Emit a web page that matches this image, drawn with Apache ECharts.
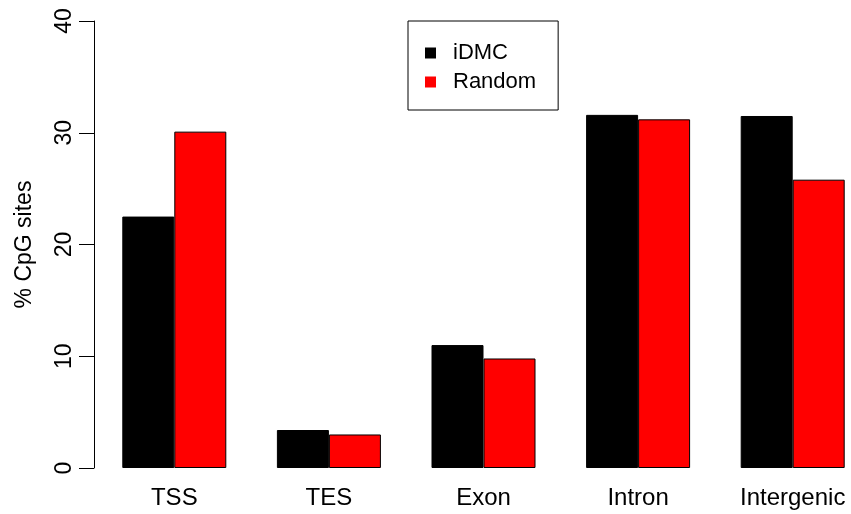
<!DOCTYPE html>
<html>
<head>
<meta charset="utf-8">
<script src="https://cdn.jsdelivr.net/npm/echarts@6/dist/echarts.min.js"></script>
<style>
  html, body { margin: 0; padding: 0; background: #fff; }
  #chart { width: 851px; height: 514px; }
</style>
</head>
<body>
<div id="chart"></div>
<script>
// Genomic feature categories
const categories = ['TSS', 'TES', 'Exon', 'Intron', 'Intergenic'];
// Percentage of CpG sites per feature
const idmcValues = [22.5, 3.4, 11.0, 31.6, 31.5];
const randomValues = [30.1, 3.0, 9.8, 31.2, 25.8];
const yTicks = [0, 10, 20, 30, 40];

const FONT = '"Liberation Sans", Arial, Helvetica, sans-serif';

const chart = echarts.init(document.getElementById('chart'), null, { renderer: 'canvas' });

chart.setOption({
  animation: false,
  backgroundColor: '#ffffff',
  textStyle: { fontFamily: FONT, color: '#000' },
  grid: { left: 97, right: -19, top: 21, bottom: 46, containLabel: false, outerBoundsMode: 'none' },
  legend: {
    orient: 'vertical',
    left: 408,
    top: 21,
    padding: [21, 22, 17, 17],
    itemWidth: 11,
    itemHeight: 11,
    itemGap: 7,
    icon: 'rect',
    borderColor: '#000',
    borderWidth: 1,
    itemStyle: { borderWidth: 0 },
    textStyle: { fontFamily: FONT, fontSize: 22, color: '#000', lineHeight: 22, padding: [0, 0, 0, 12] },
    data: ['iDMC', 'Random']
  },
  xAxis: {
    type: 'category',
    data: categories,
    axisLine: { show: false },
    axisTick: { show: false },
    axisLabel: { fontFamily: FONT, fontSize: 24, color: '#000', margin: 18 }
  },
  yAxis: {
    type: 'value',
    min: yTicks[0],
    max: yTicks[yTicks.length - 1],
    interval: 10,
    offset: 3,
    name: '% CpG sites',
    nameLocation: 'middle',
    nameRotate: 90,
    nameGap: 58,
    nameTextStyle: { fontFamily: FONT, fontSize: 23, color: '#000' },
    axisLine: { show: true, lineStyle: { color: '#000', width: 1 } },
    axisTick: { show: true, length: 15, lineStyle: { color: '#000', width: 1 } },
    axisLabel: { rotate: 90, fontFamily: FONT, fontSize: 23, color: '#000', margin: 18 },
    splitLine: { show: false }
  },
  series: [
    {
      name: 'iDMC',
      type: 'bar',
      data: idmcValues,
      barWidth: 52,
      barGap: '0%',
      itemStyle: { color: '#000000', borderColor: '#000', borderWidth: 1 }
    },
    {
      name: 'Random',
      type: 'bar',
      data: randomValues,
      barWidth: 52,
      barGap: '0%',
      itemStyle: { color: '#ff0000', borderColor: '#000', borderWidth: 1 }
    }
  ]
});
</script>
</body>
</html>
